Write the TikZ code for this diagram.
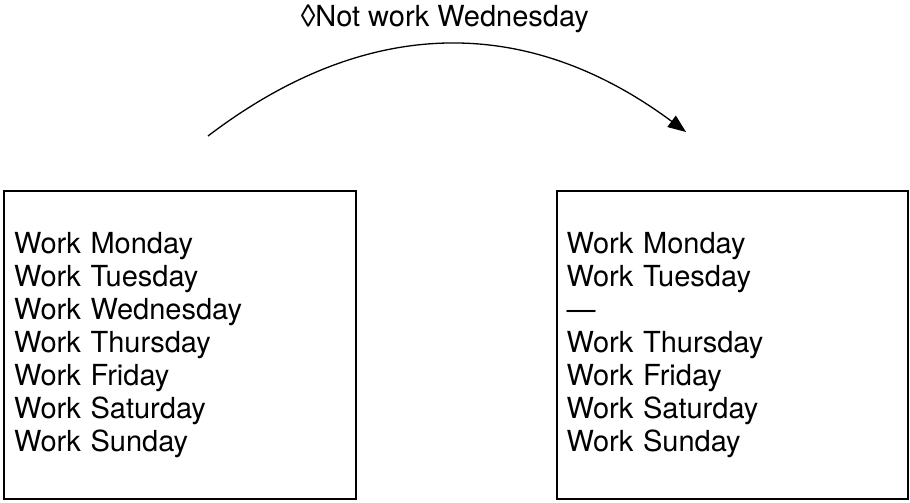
\documentclass[tikz,border=0pt]{standalone}
\usepackage{fontspec}
\setmainfont{TeX Gyre Heros}
\usetikzlibrary{arrows.meta}
\tikzset{
  daybox/.style={draw=black, line width=1.3pt, rectangle, minimum width=352pt,
    minimum height=308pt, inner xsep=9pt, inner ysep=0pt, text width=332pt,
    align=left, font=\fontsize{29}{33}\selectfont},
  titletext/.style={font=\fontsize{29}{33}\selectfont, inner sep=0pt},
  arc/.style={line width=1.3pt, -{Triangle[length=18pt,width=14pt]}}
}
\begin{document}
\begin{tikzpicture}[x=1pt,y=-1pt]
\useasboundingbox (0,0) rectangle (910,503);
\node[daybox] (before) at (180,345) {Work Monday\\Work Tuesday\\Work Wednesday\\Work Thursday\\Work Friday\\Work Saturday\\Work Sunday};
\node[daybox, minimum width=351pt] (after) at (732.5,345) {Work Monday\\Work Tuesday\\—\\Work Thursday\\Work Friday\\Work Saturday\\Work Sunday};
\node[titletext, anchor=base] (title) at (445,27) {◊Not work Wednesday};
\coordinate (s) at (208,136);
\coordinate (e) at (686,132);
\draw[arc] (s) .. controls (367,15) and (527,14) .. (e);
\end{tikzpicture}
\end{document}
